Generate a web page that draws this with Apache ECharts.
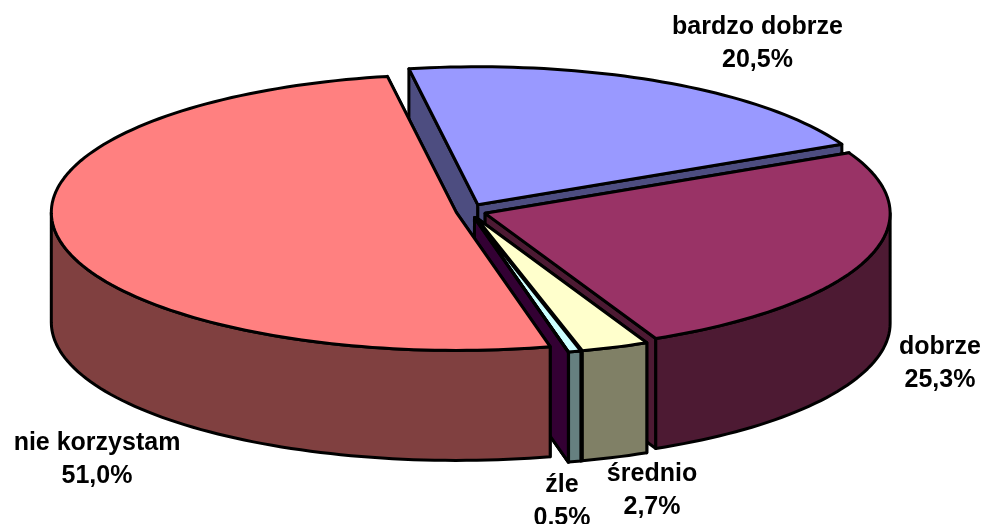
<!DOCTYPE html>
<html><head><meta charset="utf-8">
<style>html,body{margin:0;padding:0;background:#fff}#c{width:981px;height:524px}</style>
<script src="https://cdn.jsdelivr.net/npm/echarts@6/dist/echarts.min.js"></script>
</head><body><div id="c"></div>
<script>
// Data (the zero slice has no label in the reference but its wall is visible)
const categories = ['bardzo dobrze', 'dobrze', 'średnio', 'źle', 'bardzo źle', 'nie korzystam'];
const shares = [20.5, 25.3, 2.7, 0.5, 0, 51.0];
const topColors = ['#9999ff', '#993366', '#ffffcc', '#ccffff', '#660066', '#ff8080'];
const wallColors = ['#4d4d80', '#4d1a33', '#808066', '#668080', '#330033', '#804040'];

// Projection of the tilted pie
const view = { cx: 471, cy: 211, rx: 405, ry: 138, depth: 110, startDeg: -9.8, explodeX: 15, explodeY: 7 };
// Label anchors (centre of the two-line label)
const labelAnchors = [[757.5, 44], [940, 364], [652, 491], [562, 502], null, [97, 460]];

const rad = d => d * Math.PI / 180;
const total = shares.reduce((a, b) => a + b, 0);
let run = view.startDeg;
const spans = shares.map(v => { const a = run; run += v / total * 360; return [a, run]; });

function arcPoints(c, a0, a1, dy) {
  const n = Math.max(1, Math.ceil(Math.abs(a1 - a0) / 1.5));
  const pts = [];
  for (let i = 0; i <= n; i++) {
    const t = rad(a0 + (a1 - a0) * i / n);
    pts.push([c[0] + view.rx * Math.sin(t), c[1] - view.ry * Math.cos(t) + dy]);
  }
  return pts;
}
function poly(points, fill) {
  return { type: 'polygon', shape: { points },
    style: { fill, stroke: '#000', lineWidth: 3, lineJoin: 'round' } };
}
function renderItem(params, api) {
  const i = params.dataIndex;
  const [a0, a1] = spans[i];
  const mid = rad((a0 + a1) / 2);
  const c = [view.cx + view.explodeX * Math.sin(mid), view.cy - view.explodeY * Math.cos(mid)];
  const d = view.depth;
  const p0 = arcPoints(c, a0, a0, 0)[0], p1 = arcPoints(c, a1, a1, 0)[0];
  const below = p => [p[0], p[1] + d];
  const children = [
    poly([c, p0, below(p0), below(c)], wallColors[i]),
    poly([c, p1, below(p1), below(c)], wallColors[i])
  ];
  const v0 = Math.max(a0, 90), v1 = Math.min(a1, 270);
  if (v1 > v0) {
    const upper = arcPoints(c, v0, v1, 0);
    const lower = arcPoints(c, v1, v0, d);
    children.push(poly(upper.concat(lower), wallColors[i]));
  }
  children.push(poly([c].concat(arcPoints(c, a0, a1, 0)), topColors[i]));
  return { type: 'group', children };
}
function labelItem(params, api) {
  const i = params.dataIndex;
  const a = labelAnchors[i];
  if (!a || !api.value(0)) return { type: 'group', children: [] };
  return { type: 'text', style: {
    x: a[0], y: a[1], text: categories[i] + '\n' + api.value(0).toFixed(1).replace('.', ',') + '%',
    fill: '#000', font: 'bold 25px "Liberation Sans", Arial, sans-serif',
    align: 'center', verticalAlign: 'middle', lineHeight: 33 } };
}
const chart = echarts.init(document.getElementById('c'), null, { renderer: 'canvas' });
chart.setOption({
  backgroundColor: '#fff',
  animation: false,
  series: [
    { type: 'custom', coordinateSystem: 'none', renderItem, data: shares.map(v => [v]), silent: true, clip: false, z: 1 },
    { type: 'custom', coordinateSystem: 'none', renderItem: labelItem, data: shares.map(v => [v]), silent: true, clip: false, z: 2 }
  ]
});
</script></body></html>
